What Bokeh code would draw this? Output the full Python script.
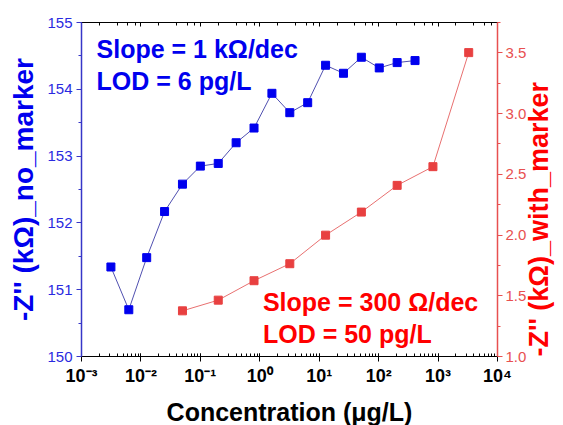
import math
from bokeh.plotting import figure
from bokeh.models import (Range1d, LinearAxis, LogAxis, Label, FixedTicker, LogTicker,
                          CustomJSTickFormatter, PrintfTickFormatter)
from bokeh.embed import file_html
from bokeh.resources import INLINE

# ---- data ----
conc_no_marker = [0.003125, 0.00625, 0.0125, 0.025, 0.05, 0.1, 0.2, 0.4, 0.8, 1.6,
                  3.2, 6.4, 12.8, 25.6, 51.2, 102.4, 204.8, 409.6]
z_no_marker = [151.34, 150.70, 151.48, 152.17, 152.58, 152.85, 152.89, 153.20, 153.42,
               153.94, 153.65, 153.80, 154.36, 154.24, 154.48, 154.32, 154.40, 154.43]
conc_with_marker = [0.05, 0.2, 0.8, 3.2, 12.8, 51.2, 204.8, 819.2, 3276.8]
z_with_marker = [1.376, 1.464, 1.624, 1.764, 1.999, 2.189, 2.409, 2.563, 3.502]

left_ticks = [150, 151, 152, 153, 154, 155]
left_minor = [150.5, 151.5, 152.5, 153.5, 154.5]
right_ticks = [1.0, 1.5, 2.0, 2.5, 3.0, 3.5]
right_minor = [1.25, 1.75, 2.25, 2.75, 3.25, 3.75]

FONT = "Liberation Sans"
BLUE = "#0000ee"
BLUE_AX = "#3636c8"
RED = "#ff0000"
RED_AX = "#e85050"

p = figure(frame_width=416, frame_height=334, x_axis_type="log",
           x_range=Range1d(1e-3, 1e4), y_range=Range1d(150, 155),
           output_backend="svg", toolbar_location=None,
           min_border_left=81, min_border_right=57, min_border_top=22, min_border_bottom=53)
p.outline_line_color = None
p.grid.visible = False
p.background_fill_color = "white"
p.border_fill_color = "white"

p.extra_y_ranges = {"right": Range1d(1.0, 3.75)}

# bottom axis
xa = p.xaxis[0]
xa.axis_line_color = "black"
xa.major_tick_line_color = "black"
xa.minor_tick_line_color = "black"
xa.major_tick_in = 0
xa.major_tick_out = 5
xa.minor_tick_in = 3
xa.minor_tick_out = 0
xa.formatter = CustomJSTickFormatter(code="""
const sup = {'-':'\u207b','0':'\u2070','1':'\u00b9','2':'\u00b2','3':'\u00b3','4':'\u2074',
             '5':'\u2075','6':'\u2076','7':'\u2077','8':'\u2078','9':'\u2079'};
const e = Math.round(Math.log10(tick)).toString();
let s = '';
for (const c of e) s += sup[c];
return '10' + s;
""")
xa.major_label_text_font = FONT
xa.major_label_text_font_style = "bold"
xa.major_label_text_font_size = "18px"
xa.major_label_text_color = "black"
xa.major_label_standoff = 4
xa.axis_label = "Concentration (\u03bcg/L)"
xa.axis_label_text_font = FONT
xa.axis_label_text_font_style = "bold"
xa.axis_label_text_font_size = "25px"
xa.axis_label_text_color = "black"
xa.axis_label_standoff = 9

# top axis (frame edge with inward ticks)
top = LogAxis(ticker=LogTicker())
top.major_label_text_font_size = "2px"
top.major_label_text_alpha = 0
top.major_label_standoff = 0
top.axis_line_color = "black"
top.major_tick_in = 4
top.major_tick_out = 0
top.minor_tick_in = 3
top.minor_tick_out = 0
p.add_layout(top, "above")

# left axis
ya = p.yaxis[0]
ya.ticker = FixedTicker(ticks=left_ticks, minor_ticks=left_minor)
ya.axis_line_color = BLUE_AX
ya.axis_line_width = 1.5
ya.major_tick_line_color = BLUE_AX
ya.minor_tick_line_color = BLUE_AX
ya.major_tick_in = 0
ya.major_tick_out = 5
ya.minor_tick_in = 0
ya.minor_tick_out = 3
ya.major_label_text_font = FONT
ya.major_label_text_font_size = "15px"
ya.major_label_text_color = "#2a2ae0"
ya.major_label_standoff = 4
ya.axis_label = "-Z'' (k\u03a9)_no_marker"
ya.axis_label_text_font = FONT
ya.axis_label_text_font_style = "bold"
ya.axis_label_text_font_size = "28px"
ya.axis_label_text_color = BLUE
ya.axis_label_standoff = 5

# right axis
ra = LinearAxis(y_range_name="right",
                ticker=FixedTicker(ticks=right_ticks, minor_ticks=right_minor),
                formatter=PrintfTickFormatter(format="%.1f"))
ra.axis_line_color = RED_AX
ra.axis_line_width = 1.5
ra.major_tick_line_color = RED_AX
ra.minor_tick_line_color = RED_AX
ra.major_tick_in = 0
ra.major_tick_out = 5
ra.minor_tick_in = 0
ra.minor_tick_out = 3
ra.major_label_text_font = FONT
ra.major_label_text_font_size = "15px"
ra.major_label_text_color = RED_AX
ra.major_label_standoff = 3
ra.axis_label = "-Z'' (k\u03a9)_with_marker"
ra.axis_label_text_font = FONT
ra.axis_label_text_font_style = "bold"
ra.axis_label_text_font_size = "27px"
ra.axis_label_text_color = RED
ra.axis_label_standoff = 10
props = ra.properties()
if "axis_label_orientation" in props:
    ra.axis_label_orientation = math.pi / 2
if "axis_label_align" in props:
    ra.axis_label_align = "start"
p.add_layout(ra, "right")

# series
p.line(conc_no_marker, z_no_marker, line_color="#5050b0", line_width=1)
p.scatter(conc_no_marker, z_no_marker, marker="square", size=8,
          fill_color=BLUE, line_color=BLUE)
p.line(conc_with_marker, z_with_marker, line_color="#e87070", line_width=1,
       y_range_name="right")
p.scatter(conc_with_marker, z_with_marker, marker="square", size=8,
          fill_color="#e84040", line_color="#e84040", y_range_name="right")

# annotations
for txt, yy in [("Slope = 1 k\u03a9/dec", 154.60), ("LOD = 6 pg/L", 154.12)]:
    p.add_layout(Label(x=0.00179, y=yy, text=txt, text_font=FONT, text_font_style="bold",
                       text_font_size="25px", text_color=BLUE, text_baseline="alphabetic"))
for txt, yy in [("Slope = 300 \u03a9/dec", 150.815), ("LOD = 50 pg/L", 150.335)]:
    p.add_layout(Label(x=1.13, y=yy, text=txt, text_font=FONT, text_font_style="bold",
                       text_font_size="25px", text_color=RED, text_baseline="alphabetic"))

open("out.html", "w").write(file_html(p, INLINE))
